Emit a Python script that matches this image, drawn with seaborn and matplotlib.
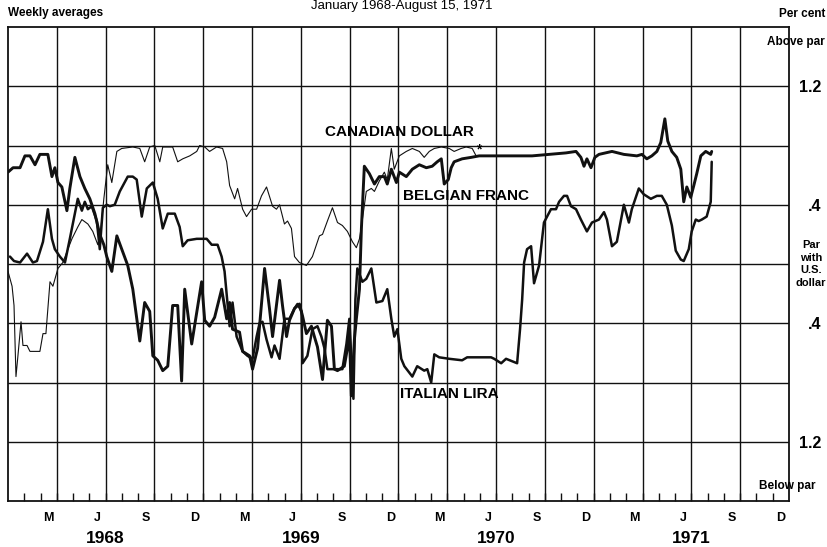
import numpy as np
import pandas as pd
import seaborn as sns
import matplotlib.pyplot as plt

# weekly averages, x = months since 1 Jan 1968, y = per cent above (+) / below (-) par
cad_month = [0, 0.25, 0.37, 0.49, 0.61, 0.80, 0.92, 1.17, 1.35, 1.78,
             1.96, 2.15, 2.33, 2.58, 2.76, 3.07, 3.37, 3.68, 3.93, 4.29,
             4.54, 4.91, 5.21, 5.52, 5.71, 5.89, 6.13, 6.38, 6.69, 6.99,
             7.67, 8.10, 8.40, 8.71, 9.02, 9.33, 9.51, 10.12, 10.43, 10.74,
             11.17, 11.60, 11.78, 12.09, 12.39, 12.82, 13.19, 13.44, 13.62, 13.93,
             14.11, 14.42, 14.66, 14.97, 15.28, 15.58, 15.89, 16.26, 16.50, 16.69,
             16.99, 17.18, 17.42, 17.61, 17.91, 18.34, 18.71, 19.14, 19.33, 19.63,
             19.94, 20.25, 20.55, 20.86, 21.17, 21.41, 21.60, 21.78, 22.02, 22.33,
             22.52, 22.82, 23.13, 23.31, 23.56, 23.74, 24.05, 24.48, 24.85, 25.28,
             25.58, 25.89, 26.20, 26.63, 27.12, 27.42, 27.85, 28.16, 28.53, 28.77]
cad_pct = [-0.05, -0.15, -0.28, -0.76, -0.62, -0.39, -0.55, -0.55, -0.59, -0.59,
           -0.59, -0.47, -0.47, -0.12, -0.15, -0.03, 0.01, 0.10, 0.17, 0.25,
           0.30, 0.27, 0.22, 0.13, 0.24, 0.44, 0.67, 0.55, 0.76, 0.78,
           0.79, 0.78, 0.69, 0.79, 0.80, 0.69, 0.79, 0.79, 0.69, 0.71,
           0.73, 0.76, 0.80, 0.79, 0.76, 0.79, 0.78, 0.69, 0.53, 0.44,
           0.51, 0.37, 0.32, 0.37, 0.37, 0.46, 0.52, 0.39, 0.37, 0.40,
           0.27, 0.29, 0.24, 0.05, 0.01, -0.01, 0.05, 0.19, 0.20, 0.29,
           0.38, 0.28, 0.26, 0.22, 0.15, 0.11, 0.17, 0.30, 0.49, 0.51,
           0.49, 0.56, 0.62, 0.57, 0.78, 0.64, 0.73, 0.76, 0.78, 0.76,
           0.72, 0.76, 0.78, 0.79, 0.78, 0.76, 0.78, 0.79, 0.78, 0.73]

bfr_month = [0, 0.31, 0.74, 1.04, 1.35, 1.66, 1.96, 2.45, 2.70, 2.88,
             3.07, 3.31, 3.62, 3.80, 4.11, 4.42, 4.72, 5.03, 5.34, 5.64,
             5.89, 6.07, 6.38, 6.69, 6.99, 7.36, 7.67, 8.10, 8.40, 8.71,
             8.90, 9.20, 9.51, 9.82, 10.12, 10.43, 10.67, 10.86, 11.29, 11.90,
             12.09, 12.39, 12.70, 13.13, 13.44, 13.62, 13.80, 14.23, 14.42, 14.85,
             15.03, 15.34, 15.77, 16.07, 16.26, 16.69, 16.87, 17.12, 17.30, 17.61,
             17.91, 18.10, 18.34, 18.65, 18.83, 19.02, 19.33, 19.63, 19.88, 20.06,
             20.25, 20.67, 20.86, 20.98, 21.10, 21.29, 21.41, 21.60, 21.72, 21.90,
             22.21, 22.52, 22.82, 23.13, 23.31, 23.56, 23.87, 24.05, 24.48, 24.85,
             25.28, 25.71, 26.07, 26.38, 26.63, 26.81, 27.06, 27.24, 27.42, 27.91,
             28.47, 28.96, 29.57, 30.18, 31.10, 32.21, 33.25, 34.29, 34.91, 35.21,
             35.40, 35.58, 35.83, 36.07, 36.32, 37.12, 37.85, 38.65, 38.96, 39.26,
             39.57, 39.88, 40.12, 40.37, 40.55, 40.80, 41.10, 41.35, 41.53, 41.72,
             41.96, 42.15, 42.33, 42.58, 42.88, 43.19, 43.25]
bfr_pct = [0.62, 0.65, 0.65, 0.73, 0.73, 0.67, 0.74, 0.74, 0.59, 0.65,
           0.55, 0.52, 0.36, 0.51, 0.72, 0.59, 0.51, 0.44, 0.34, 0.20,
           0.13, 0.05, -0.05, 0.19, 0.10, -0.01, -0.17, -0.52, -0.26, -0.32,
           -0.62, -0.65, -0.72, -0.69, -0.28, -0.28, -0.79, -0.17, -0.54, -0.12,
           -0.38, -0.42, -0.36, -0.17, -0.37, -0.26, -0.44, -0.46, -0.59, -0.62,
           -0.71, -0.57, -0.03, -0.30, -0.49, -0.11, -0.28, -0.49, -0.38, -0.30,
           -0.27, -0.35, -0.47, -0.42, -0.49, -0.56, -0.78, -0.38, -0.42, -0.71,
           -0.72, -0.69, -0.57, -0.44, -0.89, -0.51, -0.37, -0.17, 0.24, 0.66,
           0.61, 0.54, 0.59, 0.59, 0.54, 0.64, 0.55, 0.62, 0.59, 0.64,
           0.67, 0.65, 0.66, 0.69, 0.71, 0.54, 0.57, 0.65, 0.69, 0.71,
           0.72, 0.73, 0.73, 0.73, 0.73, 0.73, 0.74, 0.75, 0.76, 0.72,
           0.66, 0.71, 0.65, 0.72, 0.74, 0.76, 0.74, 0.73, 0.74, 0.71,
           0.73, 0.76, 0.82, 0.98, 0.83, 0.76, 0.72, 0.64, 0.42, 0.52,
           0.45, 0.53, 0.61, 0.73, 0.76, 0.74, 0.76]

lira_month = [0.12, 0.37, 0.74, 1.17, 1.53, 1.78, 2.15, 2.45, 2.70, 2.88,
              3.19, 3.50, 3.80, 4.11, 4.29, 4.54, 4.72, 4.91, 5.15, 5.46,
              5.64, 5.83, 6.07, 6.26, 6.56, 6.87, 7.36, 7.67, 7.91, 8.22,
              8.53, 8.90, 9.20, 9.51, 9.82, 10.25, 10.55, 10.74, 11.04, 11.60,
              12.21, 12.52, 12.88, 13.13, 13.31, 13.50, 13.62, 13.80, 14.05, 14.42,
              14.72, 15.03, 15.28, 15.46, 15.64, 15.89, 16.20, 16.38, 16.69, 16.99,
              17.30, 17.61, 17.79, 18.04, 18.10, 18.40, 18.71, 19.02, 19.26, 19.45,
              19.63, 19.94, 20.25, 20.55, 20.80, 20.98, 21.10, 21.23, 21.35, 21.47,
              21.78, 22.02, 22.33, 22.64, 23.01, 23.31, 23.56, 23.74, 23.93, 24.17,
              24.36, 24.85, 25.15, 25.58, 25.77, 26.01, 26.20, 26.50, 27.12, 27.91,
              28.22, 28.96, 29.69, 29.88, 30.31, 30.61, 31.29, 31.47, 31.60, 31.72,
              31.90, 32.15, 32.33, 32.64, 32.94, 33.37, 33.68, 33.87, 34.17, 34.36,
              34.60, 34.91, 35.21, 35.58, 35.89, 36.32, 36.63, 36.81, 37.12, 37.42,
              37.85, 38.16, 38.34, 38.77, 39.08, 39.51, 39.88, 40.18, 40.49, 40.80,
              41.04, 41.35, 41.53, 41.84, 42.02, 42.27, 42.45, 42.64, 42.94, 43.19,
              43.25]
lira_pct = [0.05, 0.02, 0.01, 0.07, 0.01, 0.02, 0.15, 0.37, 0.17, 0.10,
            0.05, 0.01, 0.17, 0.34, 0.44, 0.36, 0.42, 0.37, 0.39, 0.29,
            0.10, 0.38, 0.40, 0.39, 0.40, 0.49, 0.59, 0.59, 0.57, 0.32,
            0.51, 0.55, 0.44, 0.24, 0.34, 0.34, 0.25, 0.12, 0.16, 0.17,
            0.17, 0.13, 0.13, 0.05, -0.05, -0.28, -0.42, -0.26, -0.49, -0.59,
            -0.62, -0.64, -0.49, -0.40, -0.39, -0.51, -0.63, -0.55, -0.64, -0.37,
            -0.37, -0.30, -0.27, -0.32, -0.67, -0.62, -0.44, -0.42, -0.49, -0.57,
            -0.71, -0.71, -0.71, -0.71, -0.54, -0.37, -0.64, -0.91, -0.24, -0.03,
            -0.12, -0.10, -0.03, -0.26, -0.25, -0.17, -0.37, -0.49, -0.44, -0.64,
            -0.69, -0.76, -0.69, -0.72, -0.71, -0.80, -0.61, -0.63, -0.64, -0.65,
            -0.63, -0.63, -0.63, -0.64, -0.67, -0.64, -0.67, -0.44, -0.24, 0.01,
            0.10, 0.12, -0.13, -0.01, 0.28, 0.37, 0.37, 0.42, 0.46, 0.46,
            0.39, 0.37, 0.30, 0.22, 0.28, 0.30, 0.35, 0.30, 0.12, 0.15,
            0.40, 0.28, 0.37, 0.51, 0.47, 0.44, 0.46, 0.46, 0.40, 0.26,
            0.09, 0.03, 0.02, 0.10, 0.22, 0.30, 0.29, 0.30, 0.32, 0.42,
            0.69]

month_letters = ['M', 'J', 'S', 'D']
years = ['1968', '1969', '1970', '1971']
pct_labels = ['1.2', '', '.4', '', '.4', '', '1.2']
pct_ticks = [1.2, 0.8, 0.4, 0, -0.4, -0.8, -1.2]

sns.set_theme(style='white')
plt.rcParams['font.family'] = ['Liberation Sans', 'DejaVu Sans']
plt.rcParams['text.color'] = 'black'
plt.rcParams['xtick.color'] = 'black'
plt.rcParams['ytick.color'] = 'black'
plt.rcParams['xtick.labelcolor'] = 'black'
plt.rcParams['ytick.labelcolor'] = 'black'

ink = '#111111'

cad = pd.DataFrame({'month': cad_month, 'pct': cad_pct})
bfr = pd.DataFrame({'month': bfr_month, 'pct': bfr_pct})
lira = pd.DataFrame({'month': lira_month, 'pct': lira_pct})

fig = plt.figure(figsize=(8.28, 5.47), dpi=100)
ax = fig.add_axes([8/828, 46/547, 781/828, 474/547])

sns.lineplot(data=cad, x='month', y='pct', ax=ax, color=ink, linewidth=0.8,
             estimator=None, sort=False)
sns.lineplot(data=lira, x='month', y='pct', ax=ax, color=ink, linewidth=1.8,
             estimator=None, sort=False)
sns.lineplot(data=bfr, x='month', y='pct', ax=ax, color=ink, linewidth=2.1,
             estimator=None, sort=False)

ax.set_xlim(0, 48)
ax.set_ylim(-1.6, 1.6)
ax.set_xlabel('')
ax.set_ylabel('')

# monthly tick marks, month letters centred in the month
ax.set_xticks(np.arange(1, 48))
ax.tick_params(axis='x', which='major', direction='in', length=6, width=1,
               color=ink, bottom=True, labelbottom=False)
centers = [2.5 + 3 * k for k in range(16)]
ax.set_xticks(centers, [month_letters[k % 4] for k in range(16)], minor=True)
ax.tick_params(axis='x', which='minor', length=0, pad=8, labelsize=9)
for lbl in ax.get_xticklabels(minor=True):
    lbl.set_fontweight('bold')

for q in range(3, 48, 3):
    ax.axvline(q, color=ink, lw=1.0)

ax.yaxis.tick_right()
ax.set_yticks(pct_ticks, pct_labels)
ax.tick_params(axis='y', length=0, pad=23, labelsize=11.5)
for lbl in ax.get_yticklabels():
    lbl.set_fontweight('bold')
    lbl.set_horizontalalignment('right')
ax.grid(axis='y', color=ink, lw=1.0)

for s in ax.spines.values():
    s.set_color(ink)
    s.set_linewidth(1.3)

for i, yr in enumerate(years):
    ax.text(6 + 12 * i, -0.08, yr, transform=ax.get_xaxis_transform(),
            ha='center', va='center', fontsize=12.5, fontweight='bold')

ax.text(19.5, 0.89, 'CANADIAN DOLLAR', fontsize=11, fontweight='bold',
        va='center', ha='left')
ax.text(24.3, 0.46, 'BELGIAN FRANC', fontsize=11, fontweight='bold',
        va='center', ha='left')
ax.text(24.1, -0.88, 'ITALIAN LIRA', fontsize=11, fontweight='bold',
        va='center', ha='left')
ax.text(28.95, 0.77, '*', fontsize=10, fontweight='bold', ha='center', va='center')

fig.text(8/828, 1 - 13/547, 'Weekly averages', fontsize=8.5, fontweight='bold',
         ha='left', va='center')
fig.text(402/828, 1 - 6/547, 'January 1968-August 15, 1971', fontsize=9.5,
         ha='center', va='center')
fig.text(825/828, 1 - 14/547, 'Per cent', fontsize=8.5, fontweight='bold',
         ha='right', va='center')
fig.text(825/828, 1 - 42/547, 'Above par', fontsize=8.5, fontweight='bold',
         ha='right', va='center')
fig.text(811/828, 1 - 264/547, 'Par\nwith\nU.S.\ndollar', fontsize=8,
         fontweight='bold', ha='center', va='center', linespacing=1.35)
fig.text(816/828, 1 - 486/547, 'Below par', fontsize=8.5, fontweight='bold',
         ha='right', va='center')

fig.savefig('out.png', dpi=100)
